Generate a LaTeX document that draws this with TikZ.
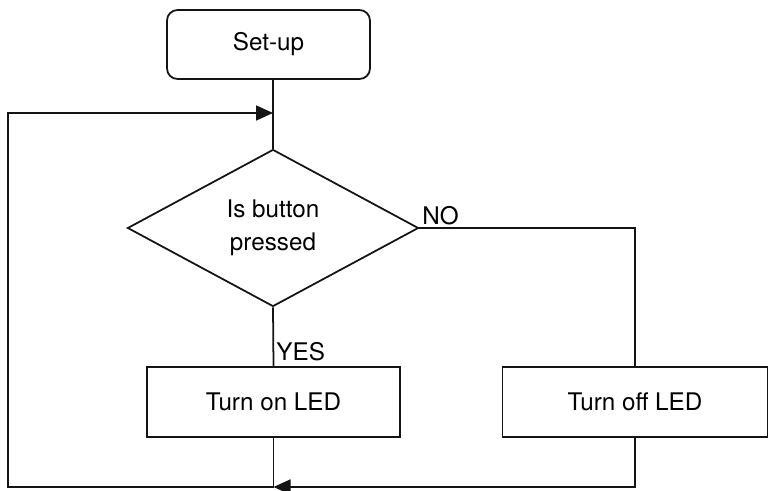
\documentclass[tikz,border=0pt]{standalone}
\usepackage{fontspec}
\setmainfont{TeX Gyre Heros}
\usepackage{tikz}
\usetikzlibrary{shapes.geometric, arrows.meta, positioning, calc}
\definecolor{mydark}{RGB}{20,20,20}
\tikzset{
  roundbox/.style={rectangle, draw=mydark, rounded corners=6pt,
    minimum width=4.06cm, minimum height=1.38cm, line width=1pt,
    font=\fontsize{13.8}{16}\selectfont},
  block/.style={rectangle, draw=mydark, minimum height=1.4cm,
    line width=1pt, font=\fontsize{13.8}{16}\selectfont},
  decision/.style={diamond, draw=mydark, minimum width=5.82cm,
    minimum height=3.14cm, inner sep=0pt, align=center, line width=1pt,
    font=\fontsize{13.8}{19}\selectfont},
  arrow/.style={-{Triangle[length=0.34cm, width=0.3cm]}, line width=1pt, color=mydark},
  line/.style={line width=1pt, color=mydark},
  lbl/.style={font=\fontsize{13.8}{16}\selectfont, inner sep=1.5pt}
}
\begin{document}
\begin{tikzpicture}
  \useasboundingbox (0,0) rectangle (15.4,9.8);

  % Blocks
  \node[roundbox] (setup) at (5.37,8.91) {Set-up};
  \node[decision] (dec) at (5.46,5.24) {Is button\\pressed};
  \node[block, minimum width=5.06cm] (on) at (5.47,1.76) {Turn on LED};
  \node[block, minimum width=5.3cm] (off) at (12.70,1.76) {Turn off LED};

  % Loop points
  \coordinate (jtop) at (dec.north |- 0,7.54);
  \coordinate (jbot) at (on.south |- 0,0.06);
  \coordinate (cbl) at (0.16,0.06);
  \coordinate (ctl) at (0.16,7.54);

  % Connectors
  \draw[line] (setup.south -| dec.north) -- (dec.north);
  \draw[line] (dec.south) -- (on.north);
  \node[lbl, anchor=south west] (yes) at ([yshift=1pt]on.north) {YES};
  \draw[line] (dec.east) -| (off.north);
  \node[lbl, anchor=south west] (no) at (dec.east) {NO};
  \draw[line] (on.south) -- (jbot);
  \draw[arrow] (off.south) |- (jbot);
  \draw[arrow] (jbot) -- (cbl) -- (ctl) -- (jtop);
\end{tikzpicture}
\end{document}
